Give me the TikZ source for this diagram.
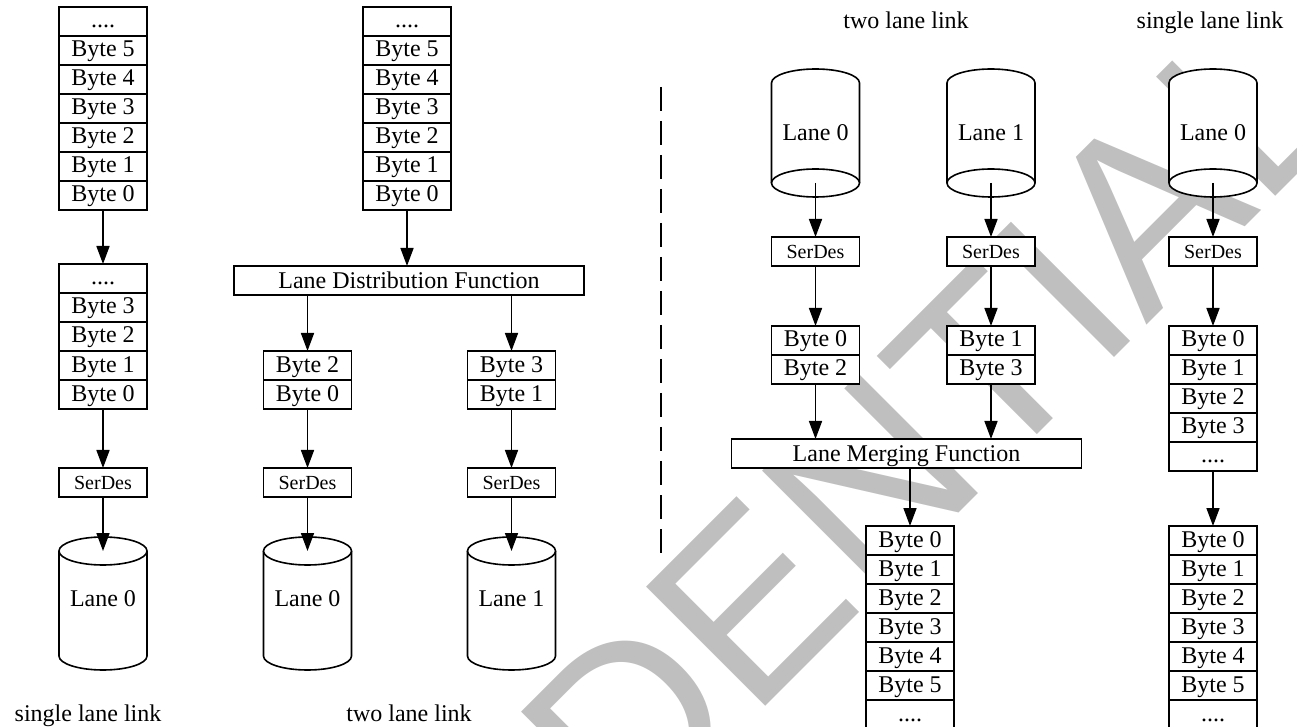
\documentclass[tikz,border=0pt]{standalone}
\usepackage{fontspec}
\setmainfont{Liberation Serif}
\newfontfamily\wmfont{Liberation Sans}
\usetikzlibrary{arrows.meta,positioning,backgrounds}

\tikzset{
  byte/.style={draw, fill=white, line width=0.8pt, minimum width=44pt,
    minimum height=14.5pt, inner sep=0pt, outer sep=0pt,
    text height=8pt, text depth=1.5pt, font=\fontsize{12}{14}\selectfont},
  serdes/.style={byte, text height=6.7pt, text depth=0pt,
    font=\fontsize{10}{12}\selectfont},
  func/.style={byte, minimum width=175pt, text depth=0pt},
  lane/.style={minimum width=44pt, minimum height=66.5pt, inner sep=0pt,
    outer sep=0pt, font=\fontsize{12}{14}\selectfont},
  drum/.style={draw, fill=white, line width=0.8pt},
  link/.style={->, line width=0.8pt},
  caption/.style={anchor=base, inner sep=0pt, font=\fontsize{12}{14}\selectfont},
  divider/.style={dash pattern=on 12pt off 5pt, line width=1pt},
  wmark/.style={text=black!25, inner sep=0pt,
    font=\wmfont\fontsize{122.5}{123}\selectfont}
}

\begin{document}
\begin{tikzpicture}[x=0.5pt, y=-0.5pt, >={Triangle[length=9pt, width=6.5pt]}]
  \useasboundingbox (0,0) rectangle (1297,727);
  \clip (0,0) rectangle (1297,727);

  % transmit, single lane link
  \node[byte] (sad) at (103,21.5) {....};
  \node[byte, below=0pt of sad] (sa5) {Byte 5};
  \foreach \i/\p in {4/5,3/4,2/3,1/2,0/1}
    \node[byte, below=0pt of sa\p] (sa\i) {Byte \i};
  \node[byte] (sbd) at (103,278.5) {....};
  \node[byte, below=0pt of sbd] (sb3) {Byte 3};
  \foreach \i/\p in {2/3,1/2,0/1}
    \node[byte, below=0pt of sb\p] (sb\i) {Byte \i};
  \node[serdes] (serA) at (103,482.5) {SerDes};
  \node[lane, text depth=5pt] (laneA) at (103,603.5) {Lane 0};
  \node[caption] (capA) at (88,721) {single lane link};

  % transmit, two lane link
  \node[byte] (scd) at (407,21.5) {....};
  \node[byte, below=0pt of scd] (sc5) {Byte 5};
  \foreach \i/\p in {4/5,3/4,2/3,1/2,0/1}
    \node[byte, below=0pt of sc\p] (sc\i) {Byte \i};
  \node[func] (ldf) at (409,280.5) {Lane Distribution Function};
  \node[byte] (sd2) at (307.5,365.5) {Byte 2};
  \node[byte, below=0pt of sd2] (sd0) {Byte 0};
  \node[byte] (se3) at (511.5,365.5) {Byte 3};
  \node[byte, below=0pt of se3] (se1) {Byte 1};
  \node[serdes] (serD) at (307.5,482.5) {SerDes};
  \node[serdes] (serE) at (511.5,482.5) {SerDes};
  \node[lane, text depth=5pt] (laneD) at (307.5,603.5) {Lane 0};
  \node[lane, text depth=5pt] (laneE) at (511.5,603.5) {Lane 1};
  \node[caption] (capB) at (409,721) {two lane link};

  \coordinate (dtop) at (661,87);
  \coordinate (dbot) at (661,562);
  \draw[divider] (dtop) -- (dbot);

  % receive, two lane link
  \node[caption] (capC) at (906,29) {two lane link};
  \node[lane, minimum height=64pt] (laneF) at (815.5,133) {Lane 0};
  \node[lane, minimum height=64pt] (laneG) at (991,133) {Lane 1};
  \node[serdes] (serF) at (815.5,251.5) {SerDes};
  \node[serdes] (serG) at (991,251.5) {SerDes};
  \node[byte] (sf0) at (815.5,340.5) {Byte 0};
  \node[byte, below=0pt of sf0] (sf2) {Byte 2};
  \node[byte] (sg1) at (991,340.5) {Byte 1};
  \node[byte, below=0pt of sg1] (sg3) {Byte 3};
  \node[func] (lmf) at (906.5,453.5) {Lane Merging Function};
  \node[byte] (si0) at (910,540.5) {Byte 0};
  \foreach \i/\p in {1/0,2/1,3/2,4/3,5/4}
    \node[byte, below=0pt of si\p] (si\i) {Byte \i};
  \node[byte, below=0pt of si5] (sid) {....};

  % receive, single lane link
  \node[caption] (capD) at (1210,29) {single lane link};
  \node[lane, minimum height=64pt] (laneH) at (1213,133) {Lane 0};
  \node[serdes] (serH) at (1213,251.5) {SerDes};
  \node[byte] (sj0) at (1213,340.5) {Byte 0};
  \foreach \i/\p in {1/0,2/1,3/2}
    \node[byte, below=0pt of sj\p] (sj\i) {Byte \i};
  \node[byte, below=0pt of sj3] (sjd) {....};
  \node[byte] (sk0) at (1213,540.5) {Byte 0};
  \foreach \i/\p in {1/0,2/1,3/2,4/3,5/4}
    \node[byte, below=0pt of sk\p] (sk\i) {Byte \i};
  \node[byte, below=0pt of sk5] (skd) {....};

  % arrows
  \draw[link] (sa0) -- (sbd);
  \draw[link] (sb0) -- (serA);
  \draw[link] (serA) -- ([yshift=-7pt]laneA.north);
  \draw[link] (sc0) -- (sc0 |- ldf.north);
  \draw[link] (sd2 |- ldf.south) -- (sd2);
  \draw[link] (se3 |- ldf.south) -- (se3);
  \draw[link] (sd0) -- (serD);
  \draw[link] (se1) -- (serE);
  \draw[link] (serD) -- ([yshift=-7pt]laneD.north);
  \draw[link] (serE) -- ([yshift=-7pt]laneE.north);
  \draw[link] ([yshift=7pt]laneF.south) -- (serF);
  \draw[link] ([yshift=7pt]laneG.south) -- (serG);
  \draw[link] ([yshift=7pt]laneH.south) -- (serH);
  \draw[link] (serF) -- (sf0);
  \draw[link] (serG) -- (sg1);
  \draw[link] (serH) -- (sj0);
  \draw[link] (sf2) -- (sf2 |- lmf.north);
  \draw[link] (sg3) -- (sg3 |- lmf.north);
  \draw[link] (si0 |- lmf.south) -- (si0);
  \draw[link] (sjd) -- (sk0);

  % watermark and lane drums, behind everything
  \begin{scope}[on background layer]
    \node[wmark, rotate=45, anchor=base east] (wm) at (1358.6,113.4) {CONFIDENTIAL};
    \foreach \n in {laneA,laneD,laneE} {
      \filldraw[drum] ([yshift=-7pt]\n.north west) -- ([yshift=7pt]\n.south west)
        arc[start angle=180, end angle=0, x radius=44, y radius=14]
        -- ([yshift=-7pt]\n.north east);
      \filldraw[drum] ([yshift=-7pt]\n.north) ellipse[x radius=44, y radius=14];
    }
    \foreach \n in {laneF,laneG,laneH} {
      \filldraw[drum] ([yshift=7pt]\n.south west) -- ([yshift=-7pt]\n.north west)
        arc[start angle=180, end angle=360, x radius=44, y radius=14]
        -- ([yshift=7pt]\n.south east);
      \filldraw[drum] ([yshift=7pt]\n.south) ellipse[x radius=44, y radius=14];
    }
  \end{scope}
\end{tikzpicture}
\end{document}
